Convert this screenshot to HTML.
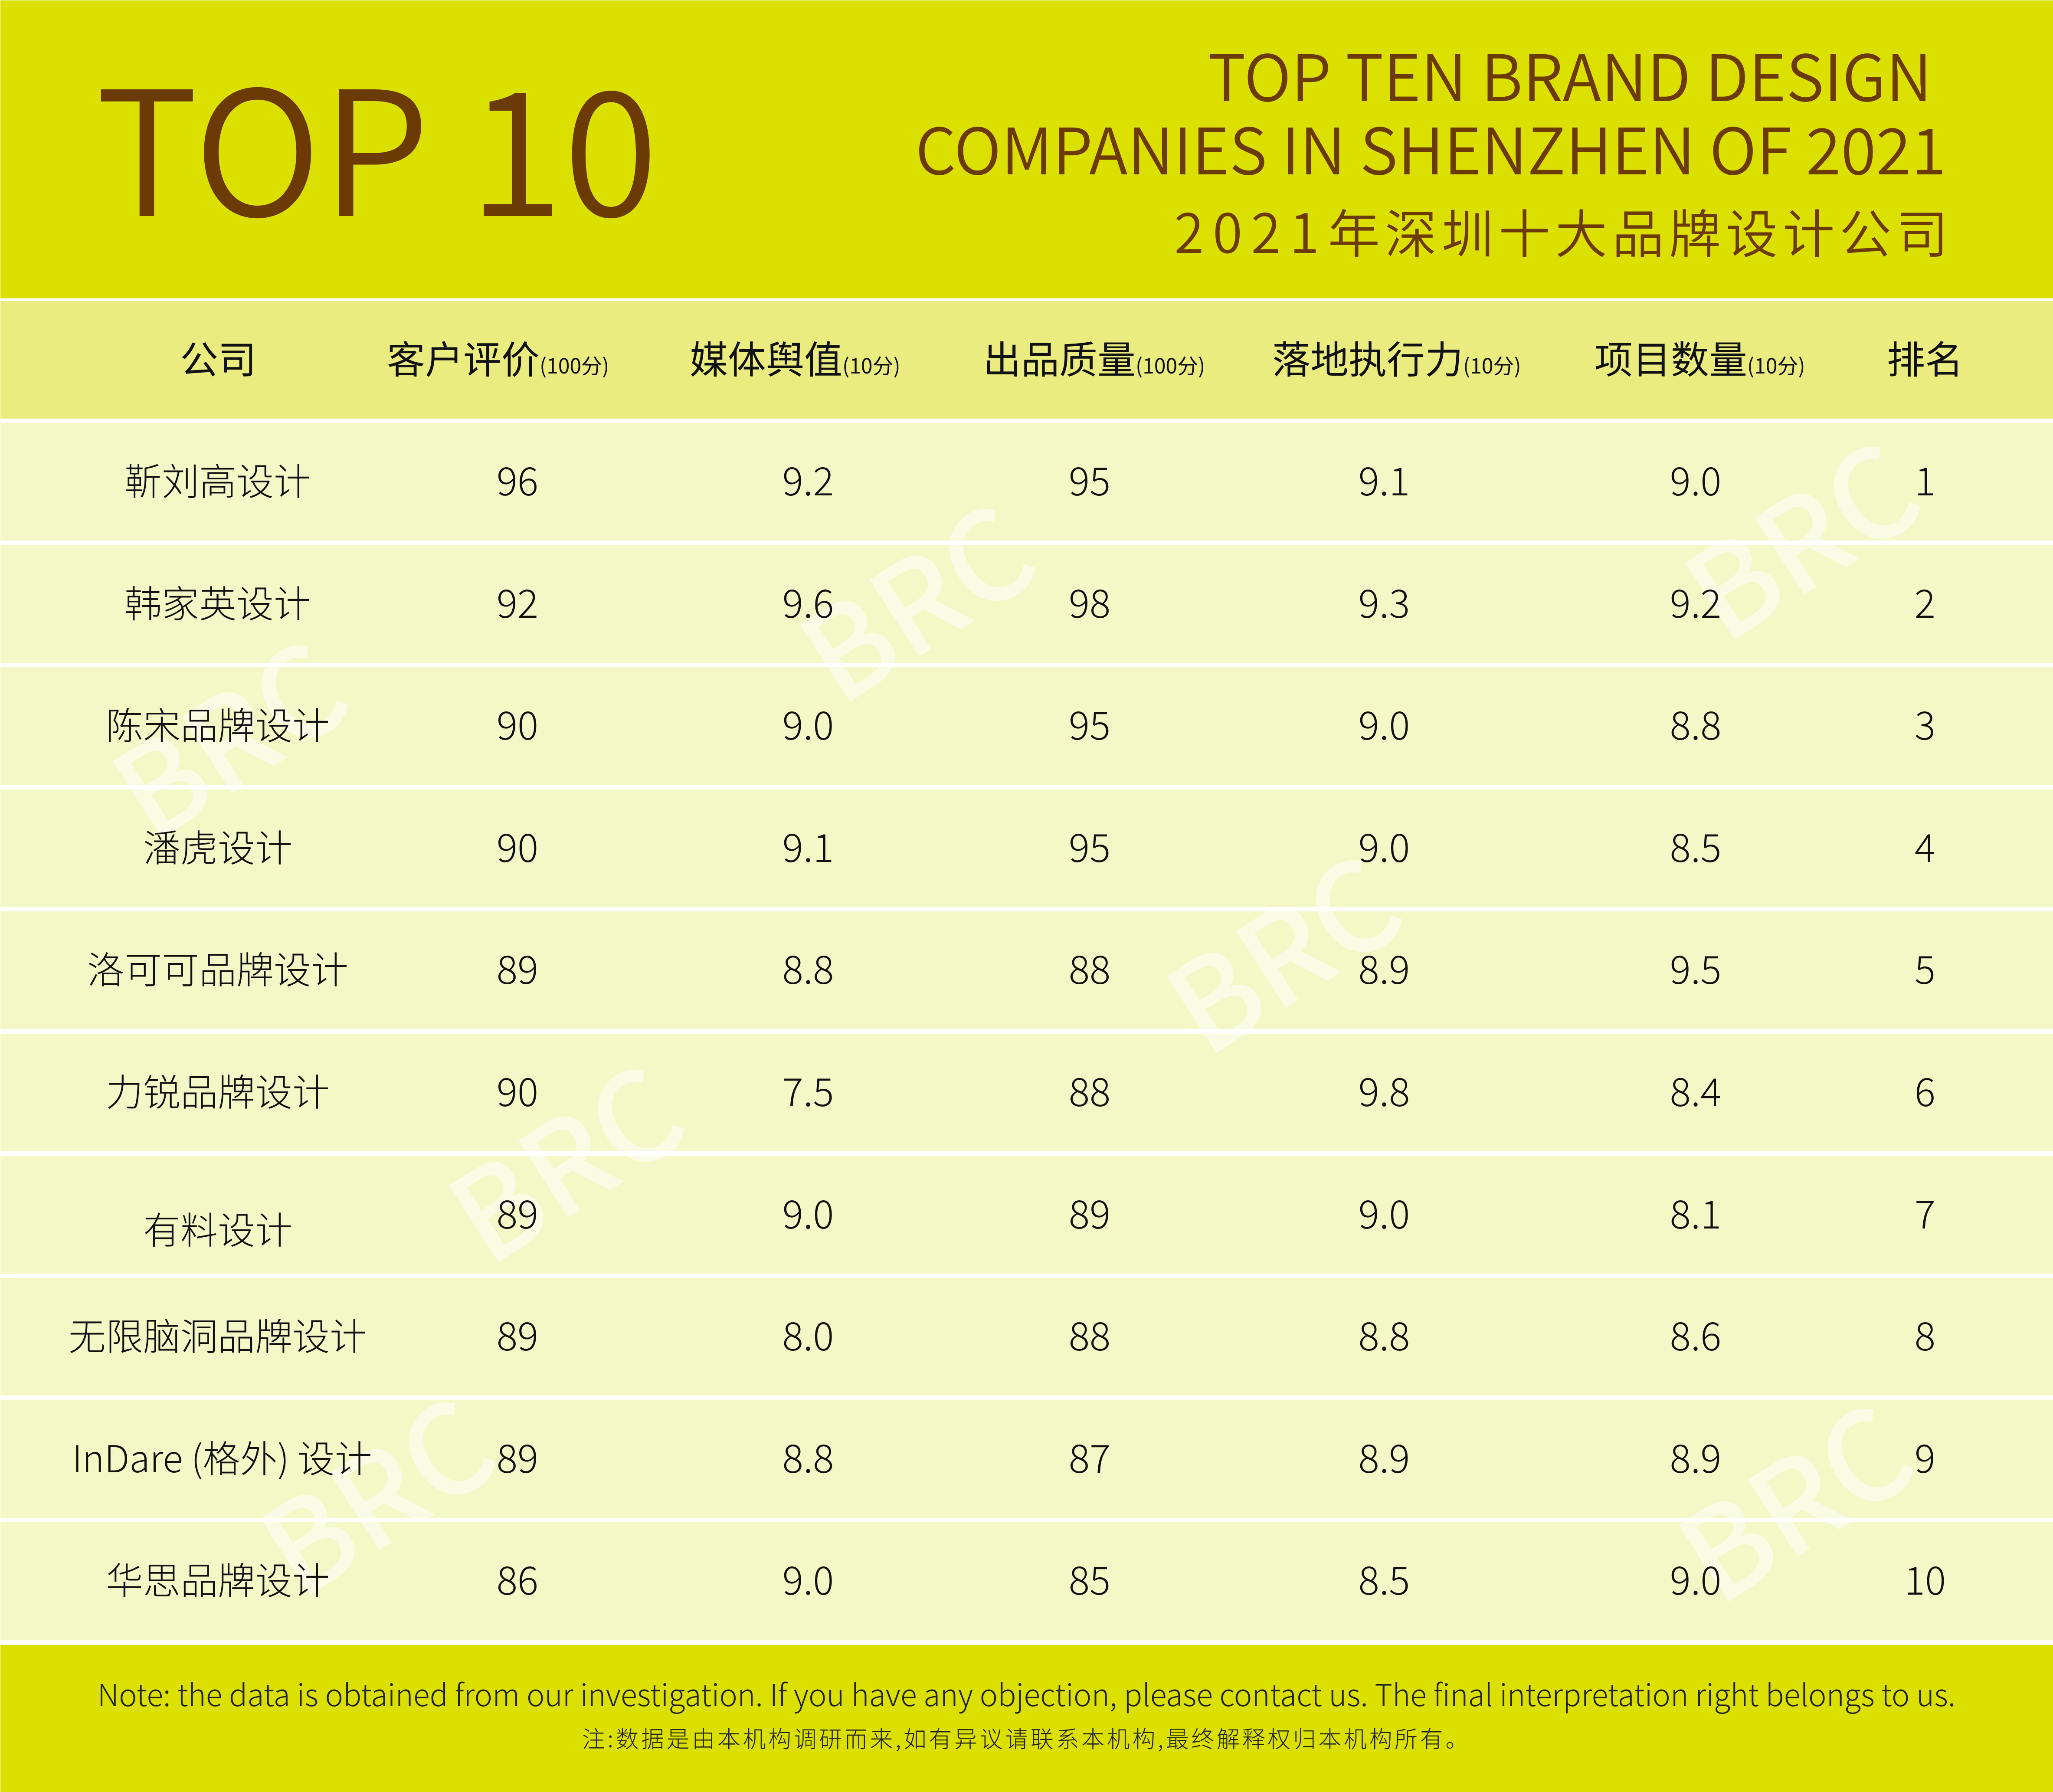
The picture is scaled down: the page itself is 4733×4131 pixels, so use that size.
<!DOCTYPE html>
<html>
<head>
<meta charset="utf-8">
<style>
html,body{margin:0;padding:0;}
body{width:4733px;height:4131px;position:relative;overflow:hidden;background:#ffffff;font-family:"Noto Sans CJK SC","Liberation Sans",sans-serif;}
.band{position:absolute;left:1px;top:1px;width:4732px;height:687px;background:#DCE000;}
.foot{position:absolute;left:1px;top:3792px;width:4732px;height:339px;background:#DCE000;}
.hdr{position:absolute;left:1px;top:694px;width:4732px;height:271px;background:#EAEC7F;}
.r{position:absolute;left:1px;width:4732px;height:271px;background:#F4F7C6;}
.r div{position:absolute;top:-7px;height:271px;line-height:271px;text-align:center;width:800px;z-index:2;color:#111;font-weight:300;white-space:nowrap;}
.r .c0{left:101px;font-size:86px;}
.r .n{font-size:90px;}
.c1{left:792px}.c2{left:1462px}.c3{left:2111px}.c4{left:2790px}.c5{left:3508px}.c6{left:4037px}
.brown{color:#6B3A05;}
.t{position:absolute;white-space:nowrap;line-height:1;}
.h{position:absolute;top:688px;height:271px;line-height:271px;white-space:nowrap;font-size:88px;color:#111;z-index:2;}
.h small{font-size:48px;}
.wm{position:absolute;z-index:1;font-size:286px;line-height:1;font-weight:500;color:rgba(255,255,255,0.55);white-space:nowrap;transform:translate(-50%,-50%) rotate(-33deg);}
</style>
</head>
<body>
<div class="band"></div>
<div class="hdr"></div>
<div class="foot"></div>

<!-- Title area -->
<div class="t brown" style="left:220px;top:125px;font-size:399px;font-weight:350;">TOP 10</div>
<div class="t brown" style="right:279px;top:96px;font-size:147.5px;font-weight:350;">TOP TEN BRAND DESIGN</div>
<div class="t brown" style="right:246px;top:265px;font-size:147.5px;font-weight:350;">COMPANIES IN SHENZHEN OF 2021</div>
<div class="t brown" style="left:2707px;top:466px;font-size:120px;font-weight:350;"><span style="font-size:125px;letter-spacing:20px;">2021</span><span style="letter-spacing:11px;">年深圳十大品牌设计公司</span></div>

<!-- Header labels -->
<div class="h" style="left:415px;">公司</div>
<div class="h" style="left:892px;">客户评价<small>(100分)</small></div>
<div class="h" style="left:1590px;">媒体舆值<small>(10分)</small></div>
<div class="h" style="left:2266px;">出品质量<small>(100分)</small></div>
<div class="h" style="left:2933px;">落地执行力<small>(10分)</small></div>
<div class="h" style="left:3676px;">项目数量<small>(10分)</small></div>
<div class="h" style="left:4350px;">排名</div>

<!-- Rows -->
<div class="r" style="top:975px;"><div class="c0">靳刘高设计</div><div class="n c1">96</div><div class="n c2">9.2</div><div class="n c3">95</div><div class="n c4">9.1</div><div class="n c5">9.0</div><div class="n c6">1</div></div>
<div class="r" style="top:1257px;"><div class="c0">韩家英设计</div><div class="n c1">92</div><div class="n c2">9.6</div><div class="n c3">98</div><div class="n c4">9.3</div><div class="n c5">9.2</div><div class="n c6">2</div></div>
<div class="r" style="top:1538px;"><div class="c0">陈宋品牌设计</div><div class="n c1">90</div><div class="n c2">9.0</div><div class="n c3">95</div><div class="n c4">9.0</div><div class="n c5">8.8</div><div class="n c6">3</div></div>
<div class="r" style="top:1820px;"><div class="c0">潘虎设计</div><div class="n c1">90</div><div class="n c2">9.1</div><div class="n c3">95</div><div class="n c4">9.0</div><div class="n c5">8.5</div><div class="n c6">4</div></div>
<div class="r" style="top:2101px;"><div class="c0">洛可可品牌设计</div><div class="n c1">89</div><div class="n c2">8.8</div><div class="n c3">88</div><div class="n c4">8.9</div><div class="n c5">9.5</div><div class="n c6">5</div></div>
<div class="r" style="top:2383px;"><div class="c0">力锐品牌设计</div><div class="n c1">90</div><div class="n c2">7.5</div><div class="n c3">88</div><div class="n c4">9.8</div><div class="n c5">8.4</div><div class="n c6">6</div></div>
<div class="r" style="top:2665px;"><div class="c0" style="top:29px;">有料设计</div><div class="n c1">89</div><div class="n c2">9.0</div><div class="n c3">89</div><div class="n c4">9.0</div><div class="n c5">8.1</div><div class="n c6">7</div></div>
<div class="r" style="top:2946px;"><div class="c0">无限脑洞品牌设计</div><div class="n c1">89</div><div class="n c2">8.0</div><div class="n c3">88</div><div class="n c4">8.8</div><div class="n c5">8.6</div><div class="n c6">8</div></div>
<div class="r" style="top:3228px;"><div class="c0" style="left:111px;">InDare (格外) 设计</div><div class="n c1">89</div><div class="n c2">8.8</div><div class="n c3">87</div><div class="n c4">8.9</div><div class="n c5">8.9</div><div class="n c6">9</div></div>
<div class="r" style="top:3509px;"><div class="c0">华思品牌设计</div><div class="n c1">86</div><div class="n c2">9.0</div><div class="n c3">85</div><div class="n c4">8.5</div><div class="n c5">9.0</div><div class="n c6">10</div></div>

<!-- Watermarks -->
<div class="wm" style="left:2105px;top:1375px;">BRC</div>
<div class="wm" style="left:4145px;top:1232px;">BRC</div>
<div class="wm" style="left:520px;top:1690px;">BRC</div>
<div class="wm" style="left:2950px;top:2185px;">BRC</div>
<div class="wm" style="left:1295px;top:2668px;">BRC</div>
<div class="wm" style="left:860px;top:3435px;">BRC</div>
<div class="wm" style="left:4130px;top:3450px;">BRC</div>

<!-- Footer notes -->
<div class="t" style="left:0;width:4733px;text-align:center;top:3869px;font-size:70px;font-weight:300;color:#222;">Note: the data is obtained from our investigation. If you have any objection, please contact us. The final interpretation right belongs to us.</div>
<div class="t" style="left:0;width:4733px;text-align:center;top:3980px;font-size:53px;letter-spacing:5.6px;font-weight:300;color:#222;">注:数据是由本机构调研而来,如有异议请联系本机构,最终解释权归本机构所有。</div>
</body>
</html>
